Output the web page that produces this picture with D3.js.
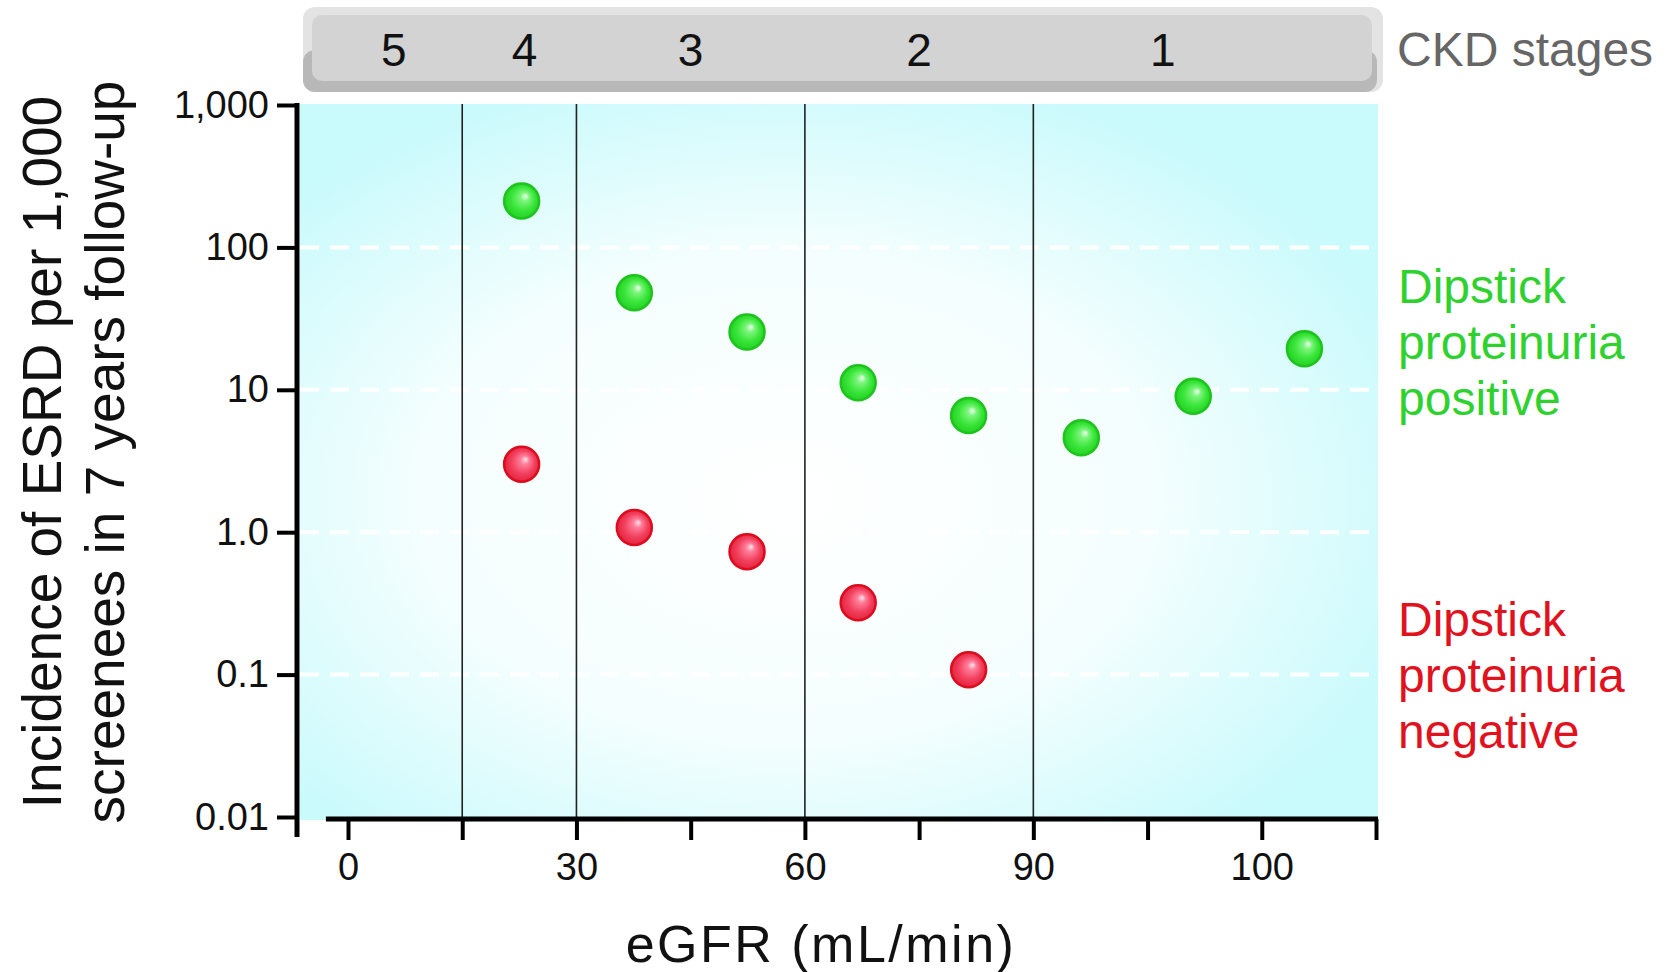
<!DOCTYPE html>
<html>
<head>
<meta charset="utf-8">
<script src="https://cdn.jsdelivr.net/npm/d3@7"></script>
<style>
  html, body { margin: 0; padding: 0; background: #fff; }
  svg { display: block; font-family: "Liberation Sans", Arial, Helvetica, sans-serif; }
</style>
</head>
<body>
<svg id="chart"></svg>
<script>
const width = 1668;
const height = 972;

// ----- DATA -----
const stageLabels = ["5", "4", "3", "2", "1"];
const stageCenters = [6, 23.2, 45, 75, 107];
const stageBounds = [15, 30, 60, 90];

const xTicks = [0, 15, 30, 45, 60, 75, 90, 105, 120, 135];
const xTickLabels = ["0", "", "30", "", "60", "", "90", "", "100", ""];

const yTicks = [0.01, 0.1, 1, 10, 100, 1000];
const yTickLabels = ["0.01", "0.1", "1.0", "10", "100", "1,000"];
const gridValues = [0.1, 1, 10, 100];

// dipstick proteinuria positive
const egfrPositive = [22.8, 37.6, 52.4, 67, 81.5, 96.3, 111, 125.6];
const esrdPositive = [212, 48, 25.5, 11.2, 6.6, 4.6, 9.0, 19.4];
// dipstick proteinuria negative
const egfrNegative = [22.8, 37.6, 52.4, 67, 81.5];
const esrdNegative = [3.0, 1.08, 0.73, 0.32, 0.108];

const positive = egfrPositive.map((e, i) => ({ egfr: e, esrd: esrdPositive[i] }));
const negative = egfrNegative.map((e, i) => ({ egfr: e, esrd: esrdNegative[i] }));

const svg = d3.select("#chart")
  .attr("width", width)
  .attr("height", height)
  .attr("viewBox", [0, 0, width, height]);

const plot = { left: 300, right: 1378, top: 104, bottom: 820 };

const x = d3.scaleLinear().domain([0, 135]).range([348, 1376]);
const y = d3.scaleLog().domain([0.01, 1000]).range([817, 105]);

// ----- GRADIENTS -----
const defs = svg.append("defs");

const bg = defs.append("radialGradient")
  .attr("id", "bg")
  .attr("cx", 0.45).attr("cy", 0.55).attr("r", 0.62);
bg.append("stop").attr("offset", "0%").attr("stop-color", "#ffffff");
bg.append("stop").attr("offset", "55%").attr("stop-color", "#f4fefe");
bg.append("stop").attr("offset", "100%").attr("stop-color", "#c9fafc");

function sphere(id, stops) {
  const g = defs.append("radialGradient")
    .attr("id", id)
    .attr("cx", 0.5).attr("cy", 0.5).attr("r", 0.55)
    .attr("fx", 0.62).attr("fy", 0.35);
  stops.forEach(([o, c]) => g.append("stop").attr("offset", o).attr("stop-color", c));
}
sphere("ballGreen", [["0%", "#f2fff2"], ["22%", "#7df57d"], ["60%", "#3ae63a"], ["100%", "#22cc22"]]);
sphere("ballRed", [["0%", "#ffe6ee"], ["22%", "#ff7e9a"], ["60%", "#f2415f"], ["100%", "#e21c36"]]);

// ----- CKD STAGE BAR -----
const bar = svg.append("g").attr("class", "stage-bar");
bar.append("rect")
  .attr("x", 303).attr("y", 7).attr("width", 1080).attr("height", 85)
  .attr("rx", 12).attr("fill", "#e3e3e3");
bar.append("rect")
  .attr("x", 303).attr("y", 50).attr("width", 1074).attr("height", 42)
  .attr("rx", 12).attr("fill", "#b8b8b8");
bar.append("rect")
  .attr("x", 312).attr("y", 15).attr("width", 1060).attr("height", 66)
  .attr("rx", 10).attr("fill", "#d3d3d3");

bar.selectAll("text")
  .data(stageLabels)
  .join("text")
  .attr("x", (d, i) => x(stageCenters[i]))
  .attr("y", 66)
  .attr("text-anchor", "middle")
  .attr("font-size", 46)
  .attr("fill", "#111")
  .text(d => d);

svg.append("text")
  .attr("x", 1397).attr("y", 66)
  .attr("font-size", 48)
  .attr("fill", "#666")
  .text("CKD stages");

// ----- PLOT AREA -----
svg.append("rect")
  .attr("x", plot.left).attr("y", plot.top)
  .attr("width", plot.right - plot.left).attr("height", plot.bottom - plot.top)
  .attr("fill", "url(#bg)");

svg.append("g")
  .selectAll("line")
  .data(gridValues)
  .join("line")
  .attr("x1", plot.left).attr("x2", plot.right)
  .attr("y1", d => y(d)).attr("y2", d => y(d))
  .attr("stroke", "#fff")
  .attr("stroke-width", 4)
  .attr("stroke-dasharray", "19 11");

svg.append("g")
  .selectAll("line")
  .data(stageBounds)
  .join("line")
  .attr("x1", d => x(d)).attr("x2", d => x(d))
  .attr("y1", plot.top).attr("y2", plot.bottom)
  .attr("stroke", "#222")
  .attr("stroke-width", 1.6);

// ----- AXES -----
const yAxis = svg.append("g")
  .attr("transform", "translate(297,0)")
  .call(d3.axisLeft(y).tickValues(yTicks).tickFormat((d, i) => yTickLabels[i]).tickSize(20).tickPadding(8));
yAxis.select(".domain").remove();
yAxis.selectAll(".tick line").attr("stroke", "#000").attr("stroke-width", 4);
yAxis.selectAll(".tick text").attr("font-size", 38).attr("fill", "#111").attr("font-family", null);
yAxis.append("line")
  .attr("x1", 0).attr("x2", 0).attr("y1", 103).attr("y2", 837)
  .attr("stroke", "#000").attr("stroke-width", 5);

const xAxis = svg.append("g")
  .attr("transform", "translate(0,819)")
  .call(d3.axisBottom(x).tickValues(xTicks).tickFormat((d, i) => xTickLabels[i]).tickSize(21).tickPadding(13));
xAxis.select(".domain").remove();
xAxis.selectAll(".tick line").attr("stroke", "#000").attr("stroke-width", 4);
xAxis.selectAll(".tick text").attr("font-size", 38).attr("fill", "#111").attr("font-family", null);
xAxis.append("line")
  .attr("x1", x(-2.9)).attr("x2", plot.right).attr("y1", 0).attr("y2", 0)
  .attr("stroke", "#000").attr("stroke-width", 5);

// axis titles
svg.append("text")
  .attr("x", 821).attr("y", 962)
  .attr("text-anchor", "middle")
  .attr("font-size", 52)
  .attr("letter-spacing", 2.5)
  .attr("fill", "#111")
  .text("eGFR (mL/min)");

const yTitle = svg.append("g").attr("transform", "rotate(-90)");
yTitle.append("text")
  .attr("x", -452).attr("y", 61)
  .attr("text-anchor", "middle").attr("font-size", 55).attr("fill", "#111")
  .text("Incidence of ESRD per 1,000");
yTitle.append("text")
  .attr("x", -452).attr("y", 124)
  .attr("text-anchor", "middle").attr("font-size", 55).attr("fill", "#111")
  .text("screenees in 7 years follow-up");

// ----- POINTS -----
svg.append("g")
  .selectAll("circle")
  .data(positive)
  .join("circle")
  .attr("cx", d => x(d.egfr))
  .attr("cy", d => y(d.esrd))
  .attr("r", 17.5)
  .attr("fill", "url(#ballGreen)")
  .attr("stroke", "#1cc41c")
  .attr("stroke-width", 2.5);

svg.append("g")
  .selectAll("circle")
  .data(negative)
  .join("circle")
  .attr("cx", d => x(d.egfr))
  .attr("cy", d => y(d.esrd))
  .attr("r", 17.5)
  .attr("fill", "url(#ballRed)")
  .attr("stroke", "#dc0c1e")
  .attr("stroke-width", 2.5);

// ----- SERIES LABELS -----
const legendPos = ["Dipstick", "proteinuria", "positive"];
const legendNeg = ["Dipstick", "proteinuria", "negative"];

svg.append("g")
  .selectAll("text")
  .data(legendPos)
  .join("text")
  .attr("x", 1398)
  .attr("y", (d, i) => 303 + i * 56)
  .attr("font-size", 48)
  .attr("fill", "#2fd12f")
  .text(d => d);

svg.append("g")
  .selectAll("text")
  .data(legendNeg)
  .join("text")
  .attr("x", 1398)
  .attr("y", (d, i) => 636 + i * 56)
  .attr("font-size", 48)
  .attr("fill", "#e0121e")
  .text(d => d);
</script>
</body>
</html>
